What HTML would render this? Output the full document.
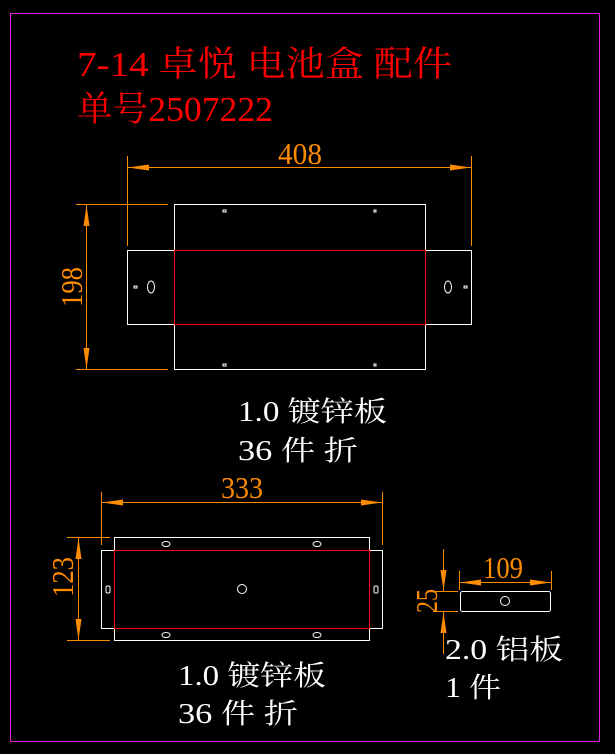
<!DOCTYPE html>
<html><head><meta charset="utf-8"><style>
html,body{margin:0;padding:0;background:#000;width:615px;height:754px;overflow:hidden}
svg{display:block}
text{font-family:"Liberation Serif","Noto Serif CJK SC",serif}
</style></head><body>
<svg width="615" height="754" viewBox="0 0 615 754" xmlns="http://www.w3.org/2000/svg">
<rect x="0" y="0" width="615" height="754" fill="#000"/>
<rect x="10.5" y="13.5" width="589" height="728" fill="none" stroke="#e020e0" stroke-width="1"/>

<text x="77" y="76" font-size="35" fill="#ff0000" textLength="375" lengthAdjust="spacingAndGlyphs">7-14 卓悦 电池盒 配件</text>
<text x="77" y="121" font-size="35" fill="#ff0000" textLength="196" lengthAdjust="spacingAndGlyphs">单号2507222</text>

<g stroke="#ff8c00" stroke-width="1" fill="#ff8c00">
<line x1="127.5" y1="156" x2="127.5" y2="246"/>
<line x1="471.5" y1="156" x2="471.5" y2="246"/>
<line x1="128" y1="167.5" x2="471" y2="167.5"/>
<polygon points="128,167.5 149,164.5 149,170.5" stroke="none"/>
<polygon points="471,167.5 450,164.5 450,170.5" stroke="none"/>
<line x1="76" y1="204.5" x2="168" y2="204.5"/>
<line x1="76" y1="369.5" x2="168" y2="369.5"/>
<line x1="86.5" y1="205" x2="86.5" y2="369"/>
<polygon points="86.5,205 83.5,226 89.5,226" stroke="none"/>
<polygon points="86.5,369 83.5,348 89.5,348" stroke="none"/>
<line x1="101.5" y1="492" x2="101.5" y2="545"/>
<line x1="382.5" y1="492" x2="382.5" y2="545"/>
<line x1="102" y1="502.5" x2="382" y2="502.5"/>
<polygon points="102,502.5 123,499.5 123,505.5" stroke="none"/>
<polygon points="382,502.5 361,499.5 361,505.5" stroke="none"/>
<line x1="67" y1="537.5" x2="110" y2="537.5"/>
<line x1="67" y1="640.5" x2="110" y2="640.5"/>
<line x1="78.5" y1="538" x2="78.5" y2="640"/>
<polygon points="78.5,538 75.5,559 81.5,559" stroke="none"/>
<polygon points="78.5,640 75.5,619 81.5,619" stroke="none"/>
<line x1="459.5" y1="571" x2="459.5" y2="590"/>
<line x1="551.5" y1="571" x2="551.5" y2="590"/>
<line x1="460" y1="582.5" x2="551" y2="582.5"/>
<polygon points="460,582.5 481,579.5 481,585.5" stroke="none"/>
<polygon points="551,582.5 530,579.5 530,585.5" stroke="none"/>
<line x1="433" y1="591.5" x2="458" y2="591.5"/>
<line x1="433" y1="611.5" x2="458" y2="611.5"/>
<line x1="443.5" y1="549" x2="443.5" y2="591"/>
<line x1="443.5" y1="612" x2="443.5" y2="654"/>
<polygon points="443.5,591 440.5,570 446.5,570" stroke="none"/>
<polygon points="443.5,612 440.5,633 446.5,633" stroke="none"/>
</g>
<g fill="#ff8c00" font-size="31">
<text x="278" y="164" textLength="44" lengthAdjust="spacingAndGlyphs">408</text>
<text transform="translate(82,307) rotate(-90)" textLength="40" lengthAdjust="spacingAndGlyphs">198</text>
<text x="221" y="498" textLength="42" lengthAdjust="spacingAndGlyphs">333</text>
<text transform="translate(73,597) rotate(-90)" textLength="40" lengthAdjust="spacingAndGlyphs">123</text>
<text x="483" y="578" textLength="40" lengthAdjust="spacingAndGlyphs">109</text>
<text transform="translate(437,613) rotate(-90)" textLength="24" lengthAdjust="spacingAndGlyphs">25</text>
</g>

<g fill="none" stroke="#fff" stroke-width="1">
<rect x="174.5" y="204.5" width="251" height="165"/>
<rect x="127.5" y="250.5" width="47" height="74"/>
<rect x="425.5" y="250.5" width="46" height="74"/>
<rect x="223" y="210" width="3" height="2"/>
<rect x="374" y="210" width="2" height="2"/>
<rect x="223" y="364" width="3" height="2"/>
<rect x="374" y="364" width="2" height="2"/>
<rect x="134" y="286" width="3" height="2"/>
<rect x="464" y="286" width="3" height="2"/>
<ellipse cx="151" cy="287" rx="3.5" ry="6"/>
<ellipse cx="448" cy="287" rx="3.5" ry="6"/>
<rect x="114.5" y="537.5" width="255" height="103"/>
<rect x="101.5" y="550.5" width="13" height="78"/>
<rect x="369.5" y="550.5" width="13" height="78"/>
<ellipse cx="166" cy="544" rx="4" ry="2.5"/>
<ellipse cx="317" cy="544" rx="4" ry="2.5"/>
<ellipse cx="166" cy="635" rx="4" ry="2.5"/>
<ellipse cx="317" cy="635" rx="4" ry="2.5"/>
<circle cx="242" cy="589" r="4.5"/>
<rect x="106" y="586" width="4" height="7" rx="1.5"/>
<rect x="374" y="586" width="4" height="7" rx="1.5"/>
<rect x="460.5" y="591.5" width="90" height="20" rx="2"/>
<circle cx="505" cy="601" r="4.5"/>
</g>
<g fill="none" stroke="#ff0000" stroke-width="1">
<rect x="174.5" y="250.5" width="251" height="74"/>
<rect x="114.5" y="550.5" width="255" height="78"/>
</g>

<g fill="#fff" font-size="28">
<text x="238" y="421" textLength="149" lengthAdjust="spacingAndGlyphs">1.0 镀锌板</text>
<text x="238" y="460" textLength="120" lengthAdjust="spacingAndGlyphs">36 件 折</text>
<text x="178" y="685" textLength="148" lengthAdjust="spacingAndGlyphs">1.0 镀锌板</text>
<text x="178" y="723" textLength="120" lengthAdjust="spacingAndGlyphs">36 件 折</text>
<text x="445" y="659" textLength="118" lengthAdjust="spacingAndGlyphs">2.0 铝板</text>
<text x="445" y="697" textLength="56" lengthAdjust="spacingAndGlyphs">1 件</text>
</g>
</svg>
</body></html>
